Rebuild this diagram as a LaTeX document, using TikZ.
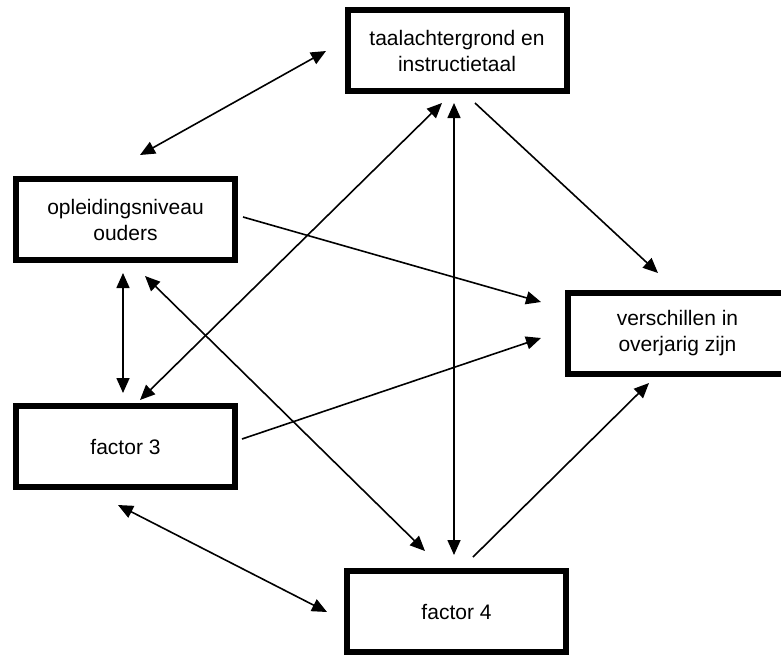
\documentclass[tikz,border=0pt]{standalone}
\usepackage{fontspec}
\setmainfont{Liberation Sans}
\usetikzlibrary{arrows.meta,calc}
\tikzset{
  box/.style={draw, line width=6pt, minimum width=219pt, minimum height=81pt, inner sep=0pt, align=center, font=\fontsize{21}{26}\selectfont},
  tip/.tip={Triangle[length=15pt,width=13pt]},
  conn/.style={line width=1.6pt, -tip},
  dconn/.style={line width=1.6pt, tip-tip}
}
\begin{document}
\begin{tikzpicture}[x=1pt,y=-1pt]
\useasboundingbox (0,0) rectangle (781,657);
\node[box] (taal) at (457,50.5) {taalachtergrond en\\instructietaal};
\node[box] (opl) at (125.5,219.5) {opleidingsniveau\\ouders};
\node[box] (vers) at (677.5,333.5) {verschillen in\\overjarig zijn};
\node[box] (f3) at (125.5,446.5) {factor 3};
\node[box] (f4) at (456.5,611.5) {factor 4};
\draw[dconn] ($(opl)+(14.5,-64.5)$) -- ($(taal)+(-131,0.5)$);
\draw[conn] ($(taal)+(18,52.5)$) -- ($(vers)+(-19.5,-60.5)$);
\draw[conn] ($(opl)+(117.5,-2.5)$) -- ($(vers)+(-136.5,-31.5)$);
\draw[conn] ($(f3)+(116.5,-7.5)$) -- ($(vers)+(-136.5,4.5)$);
\draw[conn] ($(f4)+(16.5,-54.5)$) -- ($(vers)+(-28.5,49.5)$);
\draw[dconn] ($(opl)+(-2.5,53.5)$) -- ($(f3)+(-2.5,-53.5)$);
\draw[dconn] ($(opl)+(19.5,56.5)$) -- ($(f4)+(-31.5,-60.5)$);
\draw[dconn] ($(f3)+(14.5,-46.5)$) -- ($(taal)+(-15,52.5)$);
\draw[dconn] ($(f3)+(-7.5,58.5)$) -- ($(f4)+(-129.5,0.5)$);
\draw[dconn] ($(taal)+(-3,52.5)$) -- ($(f4)+(-2.5,-56.5)$);
\end{tikzpicture}
\end{document}
